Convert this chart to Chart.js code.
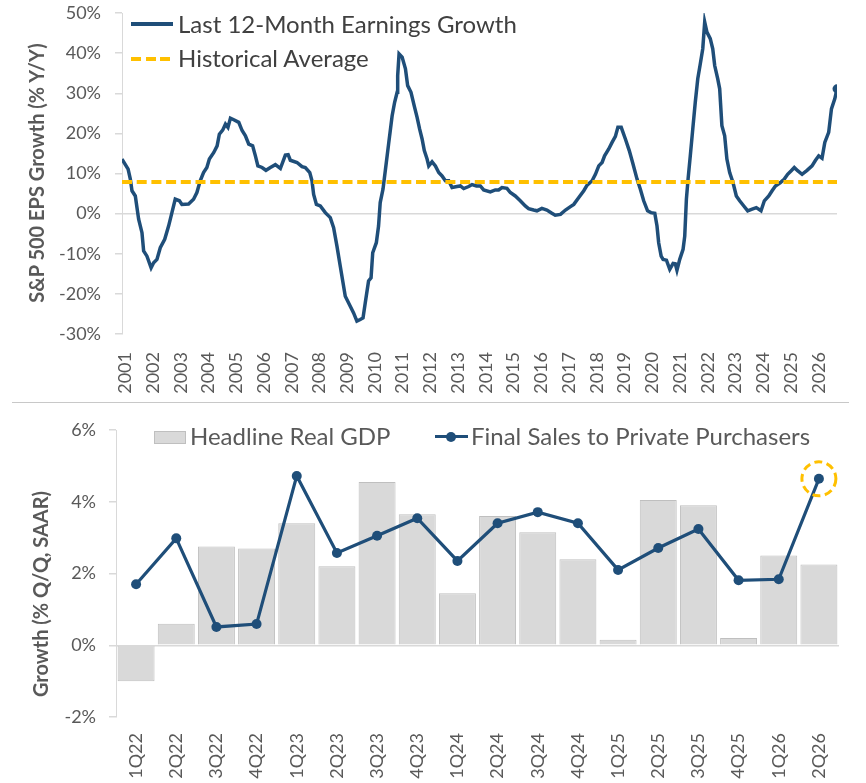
<!DOCTYPE html>
<html>
<head>
<meta charset="utf-8">
<script src="https://cdn.jsdelivr.net/npm/chart.js@4.4.1/dist/chart.umd.min.js"></script>
<style>
  body { margin: 0; background: #fff; }
  #page { position: relative; width: 866px; height: 783px; overflow: hidden; font-family: Lato, sans-serif; }
  #page canvas { position: absolute; left: 0; }
  .ytitle { position: absolute; transform: translate(-50%, -50%) rotate(-90deg); white-space: nowrap;
            font-weight: bold; font-size: 20px; color: #595959; }
  .leg { position: absolute; white-space: nowrap; font-size: 24px; line-height: 26px; }
  .swatch { position: absolute; }
</style>
</head>
<body>
<div id="page">
  <canvas id="epsChart" width="866" height="400" style="top:0"></canvas>
  <canvas id="gdpChart" width="866" height="383" style="top:400px"></canvas>

  <div class="ytitle" style="left:36px; top:173px;">S&amp;P 500 EPS Growth (% Y/Y)</div>
  <div class="ytitle" style="left:40px; top:594px;">Growth (% Q/Q, SAAR)</div>

  <!-- top legend -->
  <div class="swatch" style="left:131px; top:22px; width:42px; height:4px; background:#1F4E79;"></div>
  <div class="leg" style="left:178px; top:11px; color:#404040;">Last 12-Month Earnings Growth</div>
  <div class="swatch" style="left:131px; top:57px; width:40px; height:4px;
       background:repeating-linear-gradient(to right, #FFC000 0 10px, transparent 10px 14.7px);"></div>
  <div class="leg" style="left:178px; top:45px; color:#404040;">Historical Average</div>

  <!-- divider between panels -->
  <div class="swatch" style="left:12px; top:402px; width:837px; height:1px; background:#c8c8c8;"></div>

  <!-- bottom legend -->
  <div class="swatch" style="left:154px; top:431px; width:32px; height:13px; background:#d9d9d9; border:1px solid #bfbfbf; box-sizing:border-box;"></div>
  <div class="leg" style="left:190px; top:423px; color:#595959;">Headline Real GDP</div>
  <div class="swatch" style="left:435px; top:435px; width:33px; height:3px; background:#1F4E79;"></div>
  <div class="swatch" style="left:446px; top:432px; width:10px; height:10px; border-radius:50%; background:#1F4E79;"></div>
  <div class="leg" style="left:471px; top:423px; color:#595959;">Final Sales to Private Purchasers</div>
</div>

<script>
// Top panel: S&P 500 trailing 12-month EPS growth (% Y/Y)
const epsYears = [
  2000.88, 2001.10, 2001.18, 2001.24, 2001.36, 2001.48, 2001.60, 2001.66, 2001.78, 2001.93,
  2002.02, 2002.14, 2002.26, 2002.42, 2002.56, 2002.68, 2002.80, 2002.95, 2003.04, 2003.28,
  2003.46, 2003.58, 2003.70, 2003.82, 2003.94, 2004.03, 2004.19, 2004.31, 2004.39, 2004.51,
  2004.61, 2004.70, 2004.79, 2004.91, 2005.09, 2005.21, 2005.33, 2005.45, 2005.59, 2005.69,
  2005.78, 2005.93, 2006.07, 2006.23, 2006.41, 2006.59, 2006.77, 2006.87, 2006.95, 2007.19,
  2007.37, 2007.49, 2007.65, 2007.73, 2007.79, 2007.89, 2008.03, 2008.21, 2008.39, 2008.51,
  2008.63, 2008.75, 2008.87, 2008.93, 2009.11, 2009.23, 2009.35, 2009.47, 2009.57, 2009.65,
  2009.77, 2009.86, 2009.92, 2010.05, 2010.13, 2010.19, 2010.29, 2010.41, 2010.50, 2010.62,
  2010.71, 2010.80, 2010.82, 2010.87, 2010.98, 2011.10, 2011.18, 2011.30, 2011.43, 2011.52,
  2011.61, 2011.70, 2011.78, 2011.88, 2011.94, 2012.06, 2012.18, 2012.30, 2012.42, 2012.54,
  2012.66, 2012.78, 2012.96, 2013.08, 2013.20, 2013.38, 2013.50, 2013.66, 2013.80, 2013.92,
  2014.16, 2014.34, 2014.46, 2014.58, 2014.76, 2014.88, 2015.06, 2015.24, 2015.42, 2015.54,
  2015.72, 2015.84, 2016.02, 2016.20, 2016.38, 2016.50, 2016.69, 2016.87, 2017.05, 2017.17,
  2017.35, 2017.53, 2017.65, 2017.83, 2017.95, 2018.07, 2018.19, 2018.28, 2018.43, 2018.55,
  2018.67, 2018.76, 2018.88, 2019.03, 2019.17, 2019.29, 2019.45, 2019.57, 2019.69, 2019.83,
  2019.95, 2020.09, 2020.17, 2020.23, 2020.32, 2020.39, 2020.51, 2020.63, 2020.75, 2020.83,
  2020.89, 2020.99, 2021.11, 2021.17, 2021.23, 2021.29, 2021.37, 2021.46, 2021.55, 2021.64,
  2021.73, 2021.82, 2021.89, 2021.97, 2022.09, 2022.18, 2022.25, 2022.36, 2022.43, 2022.51,
  2022.61, 2022.69, 2022.79, 2022.91, 2023.03, 2023.15, 2023.30, 2023.44, 2023.60, 2023.75,
  2023.92, 2024.04, 2024.20, 2024.32, 2024.44, 2024.62, 2024.76, 2024.88, 2025.01, 2025.12,
  2025.24, 2025.40, 2025.58, 2025.76, 2025.88, 2026.00, 2026.12, 2026.22, 2026.36, 2026.46,
  2026.58, 2026.66
];
const epsGrowth = [
  13.6, 11.1, 8.6, 5.7, 4.4, -1.4, -4.75, -9.3, -10.6, -13.5,
  -12.25, -11.4, -8.5, -6.4, -3.1, 0.25, 3.6, 3.2, 2.3, 2.4,
  3.6, 5.25, 8.2, 10.25, 11.5, 13.6, 15.25, 16.9, 19.8, 20.8,
  22.3, 21.5, 23.8, 23.4, 22.75, 20.7, 19.4, 17.3, 16.9, 14.4,
  11.9, 11.5, 10.8, 11.5, 12.2, 11.25, 14.6, 14.7, 13.3, 12.75,
  11.7, 11.5, 10.25, 8.2, 4.8, 2.3, 1.9, 0.25, -1.0, -3.5,
  -8.1, -13.1, -18.1, -20.6, -23.1, -24.75, -26.8, -26.4, -26.0, -22.25,
  -16.8, -16.0, -9.75, -7.25, -3.1, 2.75, 6.1, 12.75, 17.75, 24.4,
  27.75, 30.25, 34.4, 39.8, 39.0, 36.1, 31.9, 30.25, 26.5, 24.0,
  21.1, 18.6, 15.7, 13.6, 11.9, 12.9, 11.9, 10.25, 9.4, 8.2,
  8.2, 6.5, 6.75, 6.9, 6.25, 6.75, 7.25, 6.9, 6.9, 5.9,
  5.4, 5.9, 5.9, 6.5, 6.3, 5.25, 4.4, 3.2, 1.9, 1.25,
  0.9, 0.7, 1.3, 0.9, 0.1, -0.4, -0.2, 0.9, 1.75, 2.3,
  4.0, 5.7, 7.1, 8.2, 9.8, 11.9, 12.75, 14.4, 16.1, 17.75,
  19.25, 21.5, 21.5, 18.6, 15.7, 12.75, 8.6, 6.1, 3.2, 0.7,
  0.25, 0.1, -3.1, -7.25, -10.6, -11.4, -11.6, -13.9, -12.4, -12.5,
  -14.1, -11.4, -8.9, -5.6, 3.6, 8.6, 14.4, 21.1, 27.75, 33.6,
  37.3, 41.1, 47.75, 45.25, 43.6, 41.1, 36.9, 33.6, 31.1, 21.9,
  19.4, 13.6, 10.25, 7.75, 4.4, 3.2, 1.9, 0.7, 1.1, 1.5,
  0.7, 3.2, 4.4, 5.7, 6.9, 7.75, 8.6, 9.8, 10.7, 11.5,
  10.7, 9.8, 10.8, 11.9, 13.25, 14.4, 13.8, 17.75, 20.25, 26.1,
  28.6, 31.1
];
const historicalAvg = 7.9;
const yearTicks = [2001, 2002, 2003, 2004, 2005, 2006, 2007, 2008, 2009, 2010, 2011, 2012, 2013,
                   2014, 2015, 2016, 2017, 2018, 2019, 2020, 2021, 2022, 2023, 2024, 2025, 2026];

// Bottom panel: quarterly growth (% Q/Q, SAAR)
const quarters = ['1Q22', '2Q22', '3Q22', '4Q22', '1Q23', '2Q23', '3Q23', '4Q23', '1Q24',
                  '2Q24', '3Q24', '4Q24', '1Q25', '2Q25', '3Q25', '4Q25', '1Q26', '2Q26'];
const realGdp = [-1.0, 0.6, 2.75, 2.7, 3.4, 2.2, 4.55, 3.65, 1.45,
                 3.6, 3.15, 2.4, 0.15, 4.05, 3.9, 0.2, 2.5, 2.25];
const finalSales = [1.7, 2.98, 0.51, 0.59, 4.72, 2.57, 3.05, 3.54, 2.35,
                    3.4, 3.71, 3.4, 2.1, 2.71, 3.24, 1.81, 1.84, 4.64];

const NAVY = '#1F4E79';
const GOLD = '#FFC000';
const TEXT = '#595959';
const AXIS = '#d9d9d9';

Chart.defaults.font.family = "Lato, sans-serif";
Chart.defaults.color = TEXT;

const pct = v => v + '%';
const zeroOnly = ctx => (ctx.tick && ctx.tick.value === 0) ? AXIS : 'rgba(0,0,0,0)';

// fixed y-axis width, and no extra room reserved for the end tick labels
const fixY = width => scale => {
    scale.width = width;
    scale.paddingTop = 0;
    scale.paddingBottom = 0;
};

// ---- top chart ----
const lastEps = epsYears.length - 1;
new Chart(document.getElementById('epsChart'), {
    type: 'line',
    data: {
        datasets: [
            {
                label: 'Historical Average',
                data: [{ x: epsYears[0], y: historicalAvg }, { x: epsYears[lastEps], y: historicalAvg }],
                borderColor: GOLD,
                borderWidth: 4,
                borderDash: [10, 4.7],
                pointRadius: 0,
                order: 0
            },
            {
                label: 'Last 12-Month Earnings Growth',
                data: epsYears.map((x, i) => ({ x: x, y: epsGrowth[i] })),
                borderColor: NAVY,
                backgroundColor: NAVY,
                borderWidth: 3.5,
                tension: 0,
                pointRadius: ctx => ctx.dataIndex === lastEps ? 4.5 : 0,
                pointBorderWidth: 0,
                order: 1
            }
        ]
    },
    options: {
        responsive: false,
        animation: false,
        layout: { padding: { left: 0, top: 13, right: 29, bottom: 0 } },
        plugins: { legend: { display: false }, tooltip: { enabled: false } },
        scales: {
            x: {
                type: 'linear',
                min: epsYears[0],
                max: epsYears[lastEps],
                afterBuildTicks: scale => { scale.ticks = yearTicks.map(v => ({ value: v })); },
                afterFit: scale => { scale.height = 66; },
                grid: { display: false, drawTicks: false },
                border: { display: false },
                ticks: {
                    minRotation: 90, maxRotation: 90, padding: 18,
                    font: { size: 18 },
                    callback: v => String(v)
                }
            },
            y: {
                min: -30, max: 50,
                afterFit: fixY(122),
                grid: { color: zeroOnly, tickColor: AXIS, tickLength: 7, lineWidth: 1.5 },
                border: { display: true, color: AXIS, width: 1 },
                ticks: { stepSize: 10, padding: 14, font: { size: 18 }, callback: pct }
            }
        }
    }
});

// ---- bottom chart ----
const highlightLast = {
    id: 'highlightLast',
    afterDatasetsDraw(chart) {
        const meta = chart.getDatasetMeta(1);
        const pt = meta.data[meta.data.length - 1];
        const ctx = chart.ctx;
        ctx.save();
        ctx.strokeStyle = GOLD;
        ctx.lineWidth = 3;
        ctx.setLineDash([8, 4.5]);
        ctx.beginPath();
        ctx.arc(pt.x, pt.y, 17, 0, Math.PI * 2);
        ctx.stroke();
        ctx.restore();
    }
};

new Chart(document.getElementById('gdpChart'), {
    type: 'bar',
    data: {
        labels: quarters,
        datasets: [
            {
                label: 'Headline Real GDP',
                data: realGdp,
                backgroundColor: '#d9d9d9',
                borderColor: '#bfbfbf',
                borderWidth: 1,
                barPercentage: 0.92,
                categoryPercentage: 1,
                order: 2
            },
            {
                type: 'line',
                label: 'Final Sales to Private Purchasers',
                data: finalSales,
                borderColor: NAVY,
                backgroundColor: NAVY,
                borderWidth: 3.2,
                tension: 0,
                pointRadius: 5,
                pointBorderWidth: 0,
                order: 1
            }
        ]
    },
    options: {
        responsive: false,
        animation: false,
        layout: { padding: { left: 0, top: 30, right: 27, bottom: 0 } },
        plugins: { legend: { display: false }, tooltip: { enabled: false } },
        scales: {
            x: {
                afterFit: scale => { scale.height = 66; },
                grid: { display: false, drawTicks: false },
                border: { display: false },
                ticks: { minRotation: 90, maxRotation: 90, padding: 16, font: { size: 18 } }
            },
            y: {
                min: -2, max: 6,
                afterFit: fixY(116),
                grid: { color: zeroOnly, tickColor: AXIS, tickLength: 7, lineWidth: 1.5 },
                border: { display: true, color: AXIS, width: 1 },
                ticks: { stepSize: 2, padding: 13, font: { size: 18 }, callback: pct }
            }
        }
    },
    plugins: [highlightLast]
});
</script>
</body>
</html>
